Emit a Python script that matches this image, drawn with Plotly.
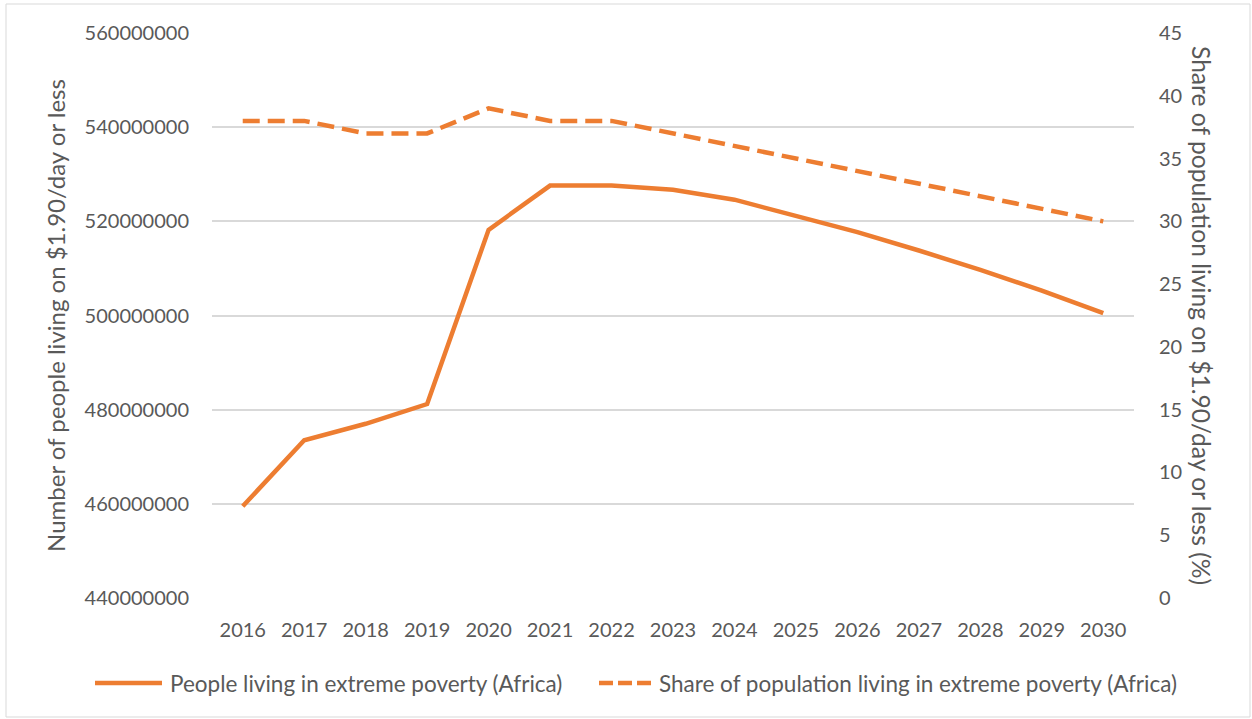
import plotly.graph_objects as go

years = [str(y) for y in range(2016, 2031)]
people = [459.5e6, 473.5e6, 477.0e6, 481.2e6, 518.2e6, 527.6e6, 527.6e6, 526.7e6,
          524.6e6, 521.2e6, 517.7e6, 513.8e6, 509.7e6, 505.3e6, 500.5e6]
share = [38, 38, 37, 37, 39, 38, 38, 37, 36, 35, 34, 33, 32, 31, 30]

left_ticks = [440e6, 460e6, 480e6, 500e6, 520e6, 540e6, 560e6]
right_ticks = [0, 5, 10, 15, 20, 25, 30, 35, 40, 45]

name_people = "People living in extreme poverty (Africa)"
name_share = "Share of population living in extreme poverty (Africa)"
left_title = "Number of people living on $1.90/day or less"
right_title = "Share of population living on $1.90/day or less (%)"

ORANGE = "#ED7D31"
GREY = "#595959"
FONT = "Lato"

# plot area geometry (px)
L, R, T, B = 212, 1134, 33, 598
W, H = R - L, B - T


def px_x(p):
    return (p - L) / W


def px_y(p):
    return (B - p) / H


fig = go.Figure()
fig.add_trace(go.Scatter(
    x=years, y=people, mode="lines", name=name_people,
    line=dict(color=ORANGE, width=4.5), yaxis="y", showlegend=False))
fig.add_trace(go.Scatter(
    x=years, y=share, mode="lines", name=name_share,
    line=dict(color=ORANGE, width=4.5, dash="17px,8px"), yaxis="y2", showlegend=False))

fig.update_layout(
    width=1252, height=719, autosize=False,
    paper_bgcolor="white", plot_bgcolor="white",
    margin=dict(l=L, r=1252 - R, t=T, b=719 - B, autoexpand=False),
    font=dict(family=FONT, color=GREY, size=20),
    xaxis=dict(type="category", range=[-0.5, 14.5], showgrid=False, showline=False,
               zeroline=False, ticks="", ticklabelstandoff=18,
               tickfont=dict(size=20, color=GREY)),
    yaxis=dict(range=[440e6, 560e6], tickvals=left_ticks, tickformat="d",
               showgrid=True, gridcolor="#D9D9D9", gridwidth=1.5, zeroline=False,
               showline=False, ticks="", ticklabelstandoff=22,
               tickfont=dict(size=20, color=GREY),
               title=dict(text=left_title, font=dict(size=24, color=GREY), standoff=12)),
    yaxis2=dict(range=[0, 45], tickvals=right_ticks, overlaying="y", side="right",
                showgrid=False, zeroline=False, showline=False, ticks="",
                ticklabelstandoff=24, tickfont=dict(size=20, color=GREY)),
    showlegend=False,
)

# right axis title, rotated to read top-down as in the reference
fig.add_annotation(text=right_title, xref="paper", yref="paper",
                   x=px_x(1202), y=px_y(315), textangle=90, showarrow=False,
                   font=dict(size=24.6, color=GREY), xanchor="center", yanchor="middle")

# legend (manual)
LEG_Y = px_y(683)
fig.add_shape(type="line", xref="paper", yref="paper", x0=px_x(95), x1=px_x(162),
              y0=LEG_Y, y1=LEG_Y, line=dict(color=ORANGE, width=4.5))
fig.add_shape(type="line", xref="paper", yref="paper", x0=px_x(599), x1=px_x(651),
              y0=LEG_Y, y1=LEG_Y, line=dict(color=ORANGE, width=4.5, dash="14px,5px"))
fig.add_annotation(text=name_people, xref="paper", yref="paper", x=px_x(168), y=LEG_Y,
                   xanchor="left", yanchor="middle", showarrow=False,
                   font=dict(size=22.5, color=GREY))
fig.add_annotation(text=name_share, xref="paper", yref="paper", x=px_x(657), y=LEG_Y,
                   xanchor="left", yanchor="middle", showarrow=False,
                   font=dict(size=22.5, color=GREY))

fig.add_shape(type="rect", xref="paper", yref="paper",
              x0=px_x(6), x1=px_x(1250), y0=px_y(717), y1=px_y(4),
              line=dict(color="#D9D9D9", width=1), fillcolor="rgba(0,0,0,0)", layer="below")

fig.write_html("out.html")
